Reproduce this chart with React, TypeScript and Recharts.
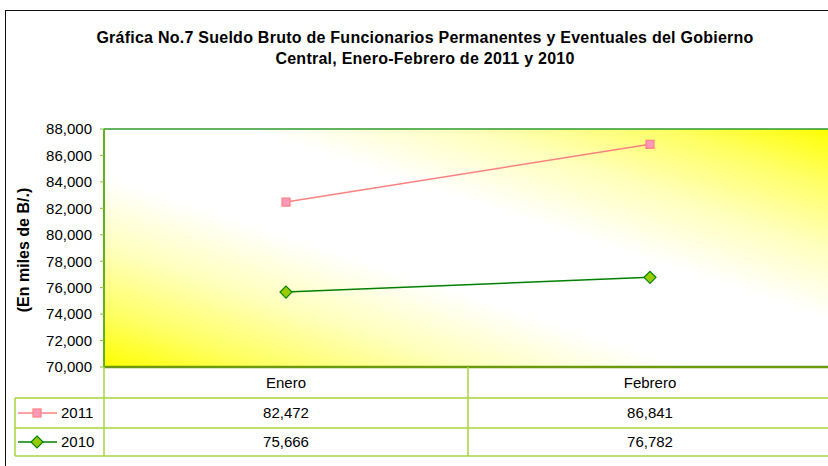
import React from 'react';
import { LineChart, Line, XAxis, YAxis, CartesianGrid, ReferenceLine } from 'recharts';

const categories = ['Enero', 'Febrero'];
const seriesNames = ['2011', '2010'];
const values2011 = [82472, 86841];
const values2010 = [75666, 76782];
const yTicks = [70000, 72000, 74000, 76000, 78000, 80000, 82000, 84000, 86000, 88000];

const titleLines = [
  'Gráfica No.7 Sueldo Bruto de Funcionarios Permanentes y Eventuales del Gobierno',
  'Central, Enero-Febrero de 2011 y 2010',
];
const yLabel = '(En miles de B/.)';

const data = categories.map((c, i) => ({ mes: c, s2011: values2011[i], s2010: values2010[i] }));

const FONT = '"Liberation Sans", Arial, sans-serif';
const TABLE = '#A6D43C';
const PINK_LINE = '#FF8080';
const PINK_FILL = '#FF99BB';
const GREEN_LINE = '#008000';
const GREEN_FILL = '#99CC00';

const PLOT_L = 104;
const PLOT_T = 129;
const PLOT_B = 367;
const PLOT_R = 832;
const ROW1 = 398;
const ROW2 = 428;
const ROW3 = 456;
const BAND = (PLOT_R - PLOT_L) / categories.length;

const fmt = (v: number) => v.toLocaleString('en-US');

const SquareDot = (props: any) => {
  const { cx, cy } = props;
  if (cx == null || cy == null) return null;
  return <rect x={cx - 4} y={cy - 4} width={8} height={8} fill={PINK_FILL} stroke={PINK_LINE} strokeWidth={1.2} />;
};

const DiamondDot = (props: any) => {
  const { cx, cy } = props;
  if (cx == null || cy == null) return null;
  const r = 6;
  return (
    <polygon
      points={`${cx},${cy - r} ${cx + r},${cy} ${cx},${cy + r} ${cx - r},${cy}`}
      fill={GREEN_FILL}
      stroke={GREEN_LINE}
      strokeWidth={1.2}
    />
  );
};

const XTick = (props: any) => {
  const { x, payload } = props;
  const i = payload.index;
  return (
    <g>
      <text x={x} y={(PLOT_B + ROW1) / 2 + 5} textAnchor="middle" fontSize={15} fontFamily={FONT} fill="#000">
        {payload.value}
      </text>
      <text x={x} y={(ROW1 + ROW2) / 2 + 5} textAnchor="middle" fontSize={15} fontFamily={FONT} fill="#000">
        {fmt(values2011[i])}
      </text>
      <text x={x} y={(ROW2 + ROW3) / 2 + 5} textAnchor="middle" fontSize={15} fontFamily={FONT} fill="#000">
        {fmt(values2010[i])}
      </text>
      <line x1={x + BAND / 2} x2={x + BAND / 2} y1={PLOT_B} y2={ROW3} stroke={TABLE} strokeWidth={1.5} />
    </g>
  );
};

export default function App() {
  return (
    <div style={{ position: 'absolute', left: 0, top: 0, width: 828, height: 466, overflow: 'hidden', background: '#fff' }}>
      <div
        style={{
          position: 'absolute',
          left: 5,
          top: 10,
          width: 900,
          height: 600,
          borderLeft: '1px solid #111',
          borderTop: '1px solid #111',
        }}
      />
      <div
        style={{
          position: 'absolute',
          left: 0,
          top: 27,
          width: 850,
          textAlign: 'center',
          fontFamily: FONT,
          fontWeight: 'bold',
          fontSize: 16,
          letterSpacing: 0.25,
          lineHeight: '21px',
          color: '#000',
        }}
      >
        {titleLines.map((t) => (
          <div key={t}>{t}</div>
        ))}
      </div>
      <div
        style={{
          position: 'absolute',
          left: 24,
          top: 250,
          width: 0,
          height: 0,
        }}
      >
        <div
          style={{
            position: 'absolute',
            transform: 'translate(-50%, -50%) rotate(-90deg)',
            whiteSpace: 'nowrap',
            fontFamily: FONT,
            fontWeight: 'bold',
            fontSize: 16,
            color: '#000',
          }}
        >
          {yLabel}
        </div>
      </div>
      <div style={{ position: 'absolute', left: 0, top: 0 }}>
        <LineChart width={828} height={466} data={data} margin={{ top: PLOT_T, right: 828 - PLOT_R, bottom: 9, left: 0 }}>
          <defs>
            <linearGradient id="plotGrad" x1="0" y1="1" x2="1" y2="0">
              <stop offset="0" stopColor="#FFFF00" />
              <stop offset="0.12" stopColor="#FFFF66" />
              <stop offset="0.25" stopColor="#FFFFBB" />
              <stop offset="0.4" stopColor="#FFFFFF" />
              <stop offset="0.6" stopColor="#FFFFFF" />
              <stop offset="0.75" stopColor="#FFFFBB" />
              <stop offset="0.88" stopColor="#FFFF66" />
              <stop offset="1" stopColor="#FFFF00" />
            </linearGradient>
          </defs>
          <CartesianGrid horizontal={false} vertical={false} fill="url(#plotGrad)" />
          <ReferenceLine y={88000} stroke="#2E9A2E" strokeWidth={1.5} />
          <XAxis
            dataKey="mes"
            scale="band"
            height={90}
            axisLine={{ stroke: '#6B9A0E', strokeWidth: 2.5 }}
            tickLine={false}
            tick={<XTick />}
            interval={0}
          />
          <YAxis
            width={104}
            domain={[70000, 88000]}
            ticks={yTicks}
            tickFormatter={fmt}
            allowDataOverflow
            axisLine={{ stroke: '#66B020', strokeWidth: 2 }}
            tickLine={{ stroke: '#80C030' }}
            tickSize={4}
            tickMargin={8}
            tick={{ fontSize: 15, fontFamily: FONT, fill: '#000' }}
          />
          <Line
            type="linear"
            dataKey="s2011"
            stroke={PINK_LINE}
            strokeWidth={1.5}
            dot={<SquareDot />}
            isAnimationActive={false}
          />
          <Line
            type="linear"
            dataKey="s2010"
            stroke={GREEN_LINE}
            strokeWidth={1.5}
            dot={<DiamondDot />}
            isAnimationActive={false}
          />
        </LineChart>
      </div>
      <svg
        width={828}
        height={466}
        style={{ position: 'absolute', left: 0, top: 0, pointerEvents: 'none' }}
      >
        <line x1={15} x2={828} y1={ROW1} y2={ROW1} stroke={TABLE} strokeWidth={1.5} />
        <line x1={15} x2={828} y1={ROW2} y2={ROW2} stroke={TABLE} strokeWidth={1.5} />
        <line x1={15} x2={828} y1={ROW3} y2={ROW3} stroke={TABLE} strokeWidth={1.5} />
        <line x1={15} x2={15} y1={ROW1} y2={ROW3} stroke={TABLE} strokeWidth={1.5} />
        <line x1={PLOT_L} x2={PLOT_L} y1={PLOT_B} y2={ROW3} stroke={TABLE} strokeWidth={1.5} />
        {seriesNames.map((name, k) => {
          const cy = k === 0 ? (ROW1 + ROW2) / 2 : (ROW2 + ROW3) / 2;
          const lineColor = k === 0 ? PINK_LINE : GREEN_LINE;
          return (
            <g key={name}>
              <line x1={18} x2={57} y1={cy} y2={cy} stroke={lineColor} strokeWidth={1.5} />
              {k === 0 ? <SquareDot cx={37} cy={cy} /> : <DiamondDot cx={37} cy={cy} />}
              <text x={61} y={cy + 5} fontSize={15} fontFamily={FONT} fill="#000">
                {name}
              </text>
            </g>
          );
        })}
      </svg>
    </div>
  );
}
